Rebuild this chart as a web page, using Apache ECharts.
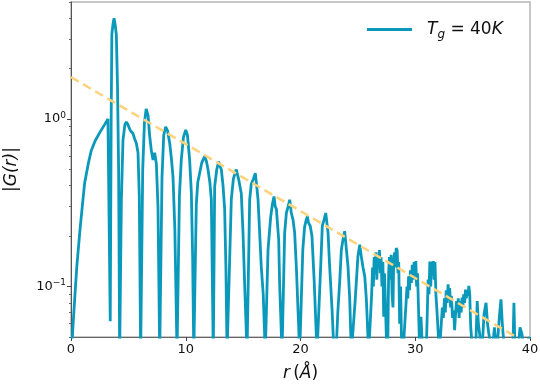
<!DOCTYPE html>
<html>
<head>
<meta charset="utf-8">
<script src="https://cdn.jsdelivr.net/npm/echarts@6/dist/echarts.min.js"></script>
<style>
  html, body { margin: 0; padding: 0; background: #fff; }
  #chart { width: 540px; height: 388px; }
</style>
</head>
<body>
<div id="chart"></div>
<script>
// |G(r)|, r in Angstrom
var rVals = [
  0.05, 0.15, 0.32, 0.5, 0.76, 1.0, 1.19, 1.5, 1.77, 2.1, 2.5, 2.9, 3.22, 3.33, 3.42,
  3.5, 3.56, 3.66, 3.75, 3.84, 3.95, 4.05, 4.15, 4.24,
  4.3, 4.39, 4.53, 4.7, 4.82, 4.95, 5.15, 5.4, 5.55, 5.69, 5.84, 5.95, 6.07,
  6.12, 6.25, 6.4, 6.55, 6.62, 6.72, 6.85, 7.0, 7.15, 7.29, 7.44, 7.58, 7.73,
  7.8, 7.93, 8.08, 8.25, 8.42, 8.6, 8.75, 8.89, 9.05, 9.24,
  9.3, 9.45, 9.61, 9.8, 10.0, 10.15, 10.34, 10.49, 10.6, 10.7,
  10.78, 10.92, 11.05, 11.21, 11.4, 11.65, 11.8, 11.94, 12.1, 12.23, 12.4,
  12.42, 12.52, 12.7, 12.87, 12.95, 13.1, 13.25, 13.39, 13.5, 13.6,
  13.75, 13.97, 14.15, 14.4, 14.6, 14.84, 14.99, 15.13, 15.34,
  15.4, 15.57, 15.71, 15.9, 16.06, 16.18, 16.3, 16.44, 16.58, 16.75, 16.93,
  17.0, 17.17, 17.4, 17.55, 17.69, 17.8, 17.9, 18.1, 18.18, 18.39,
  18.45, 18.62, 18.77, 18.92, 19.06, 19.2, 19.35, 19.49, 19.64, 19.93,
  20.0, 20.2, 20.36, 20.5, 20.6, 20.7, 20.85, 21.0, 21.2, 21.44,
  21.55, 21.76, 21.9, 22.05, 22.2, 22.3, 22.4, 22.54, 22.75, 22.92,
  23.1, 23.25, 23.41, 23.56, 23.7, 23.85, 24.0, 24.14, 24.29, 24.43,
  24.6, 24.75, 24.86, 25.0, 25.16, 25.3, 25.45, 25.6, 25.74, 25.94,
  26.1, 26.2, 26.28, 26.35, 26.42, 26.5, 26.58, 26.65, 26.72, 26.8, 26.88, 26.95,
  27.02, 27.1, 27.18, 27.25, 27.32, 27.4, 27.5, 27.6, 27.68, 27.75, 27.82, 27.9,
  27.98, 28.06, 28.12, 28.2, 28.27, 28.34, 28.42, 28.5, 28.56, 28.64, 28.72, 28.8, 28.93,
  29.1, 29.2, 29.28, 29.35, 29.42, 29.5, 29.58, 29.66, 29.74, 29.82, 29.9, 29.97,
  30.05, 30.12, 30.2, 30.27, 30.39, 30.5, 30.58, 30.7,
  30.95, 31.05, 31.12, 31.2, 31.27, 31.35, 31.42, 31.5, 31.58, 31.65, 31.72, 31.8, 31.9, 32.1,
  32.25, 32.36, 32.45, 32.55, 32.62, 32.7, 32.78, 32.86, 32.93, 33.0, 33.08, 33.15,
  33.25, 33.35, 33.43, 33.52, 33.6, 33.67, 33.75, 33.82, 33.9, 34.0, 34.08,
  34.15, 34.22, 34.3, 34.38, 34.45, 34.52, 34.6, 34.67, 34.75, 34.83, 34.95, 35.1,
  35.3, 35.4, 35.5, 35.6, 35.8, 36.0, 36.17, 36.3,
  36.4, 36.7, 36.9, 37.1, 37.33, 37.47, 37.6, 37.8, 38.5, 38.6, 38.7, 39.0, 39.13,
  39.3, 39.5, 39.8, 40.0
];
var gVals = [
  0.04, 0.055, 0.084, 0.13, 0.21, 0.31, 0.416, 0.54, 0.65, 0.74, 0.83, 0.92, 1.0, 1.02, 0.062,
  1.0, 3.2, 3.7, 4.0, 3.7, 3.2, 1.6, 0.5, 0.04,
  0.04, 0.33, 0.75, 0.93, 0.96, 0.93, 0.86, 0.82, 0.76, 0.72, 0.63, 0.35, 0.04,
  0.04, 0.5, 0.95, 1.15, 1.18, 1.05, 0.8, 0.65, 0.57, 0.63, 0.54, 0.3, 0.04,
  0.04, 0.45, 0.8, 0.9, 0.85, 0.72, 0.58, 0.45, 0.22, 0.04,
  0.04, 0.35, 0.57, 0.78, 0.86, 0.8, 0.57, 0.36, 0.15, 0.04,
  0.04, 0.31, 0.42, 0.475, 0.55, 0.6, 0.56, 0.5, 0.42, 0.33, 0.04,
  0.04, 0.395, 0.5, 0.557, 0.53, 0.5, 0.4, 0.29, 0.13, 0.04,
  0.04, 0.33, 0.44, 0.5, 0.44, 0.36, 0.21, 0.105, 0.04,
  0.04, 0.33, 0.41, 0.44, 0.475, 0.4, 0.33, 0.21, 0.132, 0.09, 0.04,
  0.04, 0.166, 0.26, 0.31, 0.345, 0.3, 0.29, 0.19, 0.105, 0.04,
  0.04, 0.21, 0.275, 0.3, 0.33, 0.275, 0.25, 0.21, 0.13, 0.04,
  0.04, 0.166, 0.228, 0.25, 0.262, 0.24, 0.23, 0.2, 0.105, 0.04,
  0.04, 0.132, 0.23, 0.25, 0.275, 0.24, 0.21, 0.132, 0.073, 0.04,
  0.04, 0.07, 0.105, 0.166, 0.19, 0.214, 0.166, 0.132, 0.084, 0.04,
  0.04, 0.08, 0.105, 0.151, 0.178, 0.151, 0.13, 0.115, 0.084, 0.04,
  0.04, 0.09, 0.13, 0.1, 0.15, 0.12, 0.16, 0.11, 0.155, 0.13, 0.165, 0.12,
  0.15, 0.1, 0.14, 0.066, 0.12, 0.08, 0.045, 0.04, 0.12, 0.15, 0.11, 0.155,
  0.09, 0.075, 0.14, 0.16, 0.13, 0.17, 0.165, 0.12, 0.14, 0.06, 0.1, 0.05, 0.04,
  0.04, 0.08, 0.1, 0.085, 0.115, 0.095, 0.125, 0.105, 0.135, 0.11, 0.14, 0.12,
  0.142, 0.1, 0.12, 0.08, 0.04, 0.066, 0.05, 0.04,
  0.04, 0.07, 0.11, 0.09, 0.141, 0.1, 0.141, 0.12, 0.142, 0.11, 0.14, 0.09, 0.07, 0.04,
  0.04, 0.075, 0.065, 0.085, 0.07, 0.095, 0.08, 0.103, 0.085, 0.098, 0.075, 0.088,
  0.065, 0.072, 0.055, 0.07, 0.082, 0.07, 0.085, 0.065, 0.082, 0.07, 0.086,
  0.075, 0.09, 0.08, 0.096, 0.085, 0.095, 0.088, 0.101, 0.09, 0.058, 0.045, 0.04,
  0.05, 0.082, 0.06, 0.053, 0.04, 0.069, 0.08, 0.06,
  0.053, 0.04, 0.057, 0.04, 0.066, 0.084, 0.058, 0.04, 0.04, 0.08, 0.04, 0.045, 0.057,
  0.052, 0.04, 0.048, 0.05
];

// dashed exponential envelope, two end points
var envR = [0, 38.8];
var envG = [1.78, 0.05];

var xTicks = [0, 10, 20, 30, 40];
var yMajor = [0.1, 1];
var yMinor = [0.05, 0.06, 0.07, 0.08, 0.09, 0.2, 0.3, 0.4, 0.5, 0.6, 0.7, 0.8, 0.9, 2, 3, 4, 5];

var lineColor = '#0a99ba';
var envColor = '#fdd27c';
var font = 'DejaVu Sans';

var chart = echarts.init(document.getElementById('chart'));

var gData = rVals.map(function (r, i) { return [r, gVals[i]]; });
var envData = envR.map(function (r, i) { return [r, envG[i]]; });

function supLabel(v) {
  var e = Math.round(Math.log10(v));
  return '{b|10}{s|' + (e < 0 ? '\u2212' + (-e) : e) + '}';
}

var option = {
  animation: false,
  backgroundColor: '#fff',
  grid: {
    left: 71, right: 10, top: 2, bottom: 51,
    outerBoundsMode: 'none',
    containLabel: false,
    show: true,
    borderColor: '#b5b5b5',
    borderWidth: 1.5
  },
  legend: {
    left: 362,
    top: 16,
    icon: 'rect',
    itemWidth: 45,
    itemHeight: 3,
    itemGap: 10,
    data: ['Tg'],
    formatter: function () {
      return '{i|T}{sub|g}{n| = 40}{i|K}';
    },
    textStyle: {
      padding: [0, 0, 0, 10],
      rich: {
        i: { fontFamily: font, fontStyle: 'italic', fontSize: 17, color: '#111' },
        n: { fontFamily: font, fontSize: 17, color: '#111' },
        sub: { fontFamily: font, fontStyle: 'italic', fontSize: 12, color: '#111', padding: [10, 0, 0, 0] }
      }
    }
  },
  xAxis: {
    type: 'value',
    min: 0,
    max: 40,
    interval: 10,
    name: '{i|r} {n|(}{i|Å}{n|)}',
    nameLocation: 'middle',
    nameGap: 28,
    nameTextStyle: {
      rich: {
        i: { fontFamily: font, fontStyle: 'italic', fontSize: 17, color: '#111' },
        n: { fontFamily: font, fontSize: 17, color: '#111' }
      }
    },
    axisLine: { lineStyle: { color: '#666', width: 1 } },
    axisTick: { length: 4, lineStyle: { color: '#444' }, customValues: xTicks },
    axisLabel: {
      fontFamily: font, fontSize: 13, color: '#111', margin: 6,
      customValues: xTicks
    },
    splitLine: { show: false }
  },
  yAxis: [
    {
      type: 'log',
      logBase: 10,
      min: 0.05,
      max: 5,
      name: '{b||G(}{i|r}{b|)|}',
      nameLocation: 'middle',
      nameGap: 51,
      nameRotate: 90,
      nameTextStyle: {
        rich: {
          b: { fontFamily: font, fontStyle: 'italic', fontSize: 17, color: '#111' },
          i: { fontFamily: font, fontStyle: 'italic', fontSize: 17, color: '#111' }
        }
      },
      axisLine: { show: true, lineStyle: { color: '#555', width: 1 } },
      axisTick: { length: 4, lineStyle: { color: '#444' }, customValues: yMajor },
      axisLabel: {
        margin: 5,
        customValues: yMajor,
        formatter: supLabel,
        rich: {
          b: { fontFamily: font, fontSize: 13, color: '#111' },
          s: { fontFamily: font, fontSize: 9, color: '#111', verticalAlign: 'top', padding: [0, 0, 7, 0] }
        }
      },
      splitLine: { show: false }
    },
    {
      type: 'log',
      logBase: 10,
      min: 0.05,
      max: 5,
      position: 'left',
      axisLine: { show: false },
      axisTick: { show: true, length: 2, lineStyle: { color: '#666' }, customValues: yMinor },
      axisLabel: { show: false },
      splitLine: { show: false }
    }
  ],
  series: [
    {
      name: 'Tg',
      type: 'line',
      data: gData,
      symbol: 'none',
      clip: true,
      color: lineColor,
      lineStyle: { color: lineColor, width: 2.8 }
    },
    {
      name: 'fit',
      type: 'line',
      data: envData,
      symbol: 'none',
      clip: true,
      lineStyle: { color: envColor, width: 2.5, type: [9, 5] },
      z: 3
    }
  ]
};

chart.setOption(option);
</script>
</body>
</html>
